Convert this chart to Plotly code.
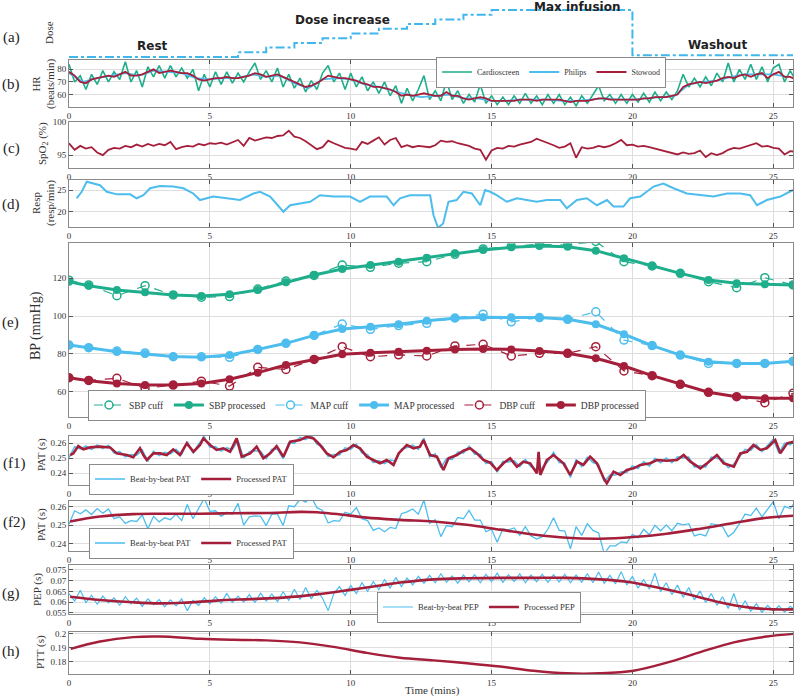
import plotly.graph_objects as go
from plotly.subplots import make_subplots

GREEN = "#1fae8b"
BLUE = "#4dbdee"
RED = "#a51f3b"
SERIF = "Liberation Serif"
SANS = "DejaVu Sans"

# ---- (a) dose protocol (arbitrary units, step per minute)
dose_t = [0, 6, 7, 8, 9, 10, 11, 12, 13, 14, 15, 20, 25.7]
dose_v = [0, 1, 2, 3, 4, 5, 6, 7, 8, 9, 10, 0.4, 0.4]

# ---- (b) heart rate, sampled every 0.2 min (Philips every 0.5 min)
hr_cardioscreen = [
    84, 70, 75, 64, 76, 68, 79, 70, 78, 72,
    86, 70, 79, 66, 82, 74, 83, 73, 83, 74,
    81, 73, 80, 63, 76, 66, 78, 68, 78, 69,
    77, 70, 78, 85, 72, 79, 70, 81, 66, 76,
    65, 73, 62, 71, 64, 77, 83, 70, 77, 64,
    77, 66, 74, 63, 70, 61, 70, 59, 67, 53,
    65, 55, 64, 75, 56, 63, 55, 71, 56, 63,
    53, 60, 54, 68, 53, 59, 52, 58, 52, 59,
    53, 61, 53, 59, 52, 60, 53, 60, 52, 58,
    51, 59, 53, 60, 67, 55, 60, 53, 60, 53,
    60, 54, 61, 54, 62, 55, 62, 56, 63, 76,
    66, 73, 66, 74, 67, 77, 70, 85, 70, 80,
    72, 84, 72, 82, 70, 81, 84, 70, 79, 71]
hr_philips = [
    77, 70, 73, 75, 77, 75, 79, 78, 77, 73,
    72, 73, 73, 76, 74, 75, 69, 65, 72, 73,
    72, 68, 66, 63, 60, 58, 59, 60, 57, 57,
    55, 55, 56, 56, 56, 55, 55, 56, 57, 56,
    56, 57, 58, 59, 68, 70, 71, 74, 76, 76,
    76, 74]
hr_stowood = [
    78, 75, 70, 69, 72, 73, 74, 75, 74, 76,
    78, 75, 75, 76, 78, 80, 77, 78, 79, 78,
    77, 77, 75, 72, 71, 72, 73, 73, 74, 73,
    73, 74, 75, 77, 76, 74, 75, 76, 74, 72,
    70, 68, 66, 67, 69, 72, 75, 74, 73, 73,
    72, 71, 69, 68, 66, 66, 65, 64, 62, 59,
    60, 59, 60, 61, 60, 59, 59, 62, 59, 59,
    57, 56, 57, 58, 57, 55, 55, 55, 55, 55,
    56, 56, 56, 55, 56, 56, 56, 56, 55, 54,
    55, 55, 55, 56, 57, 57, 56, 56, 56, 56,
    56, 56, 57, 57, 58, 58, 58, 59, 60, 66,
    68, 69, 70, 69, 70, 71, 73, 74, 73, 75,
    76, 74, 76, 77, 73, 76, 78, 74, 74, 72]

# ---- (c) SpO2, every 0.2 min
spo2 = [
    96.8, 95.8, 96.4, 96.0, 96.2, 95.4, 95.0, 95.8, 96.1, 96.0,
    96.4, 96.2, 96.6, 96.3, 96.7, 96.4, 96.7, 96.5, 97.0, 95.9,
    96.2, 96.4, 96.3, 96.7, 96.5, 96.8, 96.7, 96.9, 96.6, 96.9,
    97.3, 96.4, 97.6, 97.2, 97.5, 97.7, 97.6, 97.9, 98.0, 98.7,
    97.8, 97.6, 97.1, 96.5, 95.9, 96.2, 97.2, 96.8, 96.5, 96.1,
    96.0, 95.8, 97.0, 96.7, 97.2, 97.7, 96.6, 97.3, 97.6, 96.2,
    96.5, 96.2, 96.4, 96.3, 96.2, 96.5, 97.2, 97.0, 97.1, 96.8,
    96.6, 96.4, 96.0, 95.8, 94.3, 95.7, 96.1, 96.0, 96.4, 96.3,
    96.6, 96.8, 97.0, 97.5, 97.2, 96.9, 96.5, 96.1, 96.3, 96.8,
    94.6, 96.2, 96.0, 96.1, 96.4, 96.2, 96.4, 96.8, 97.3, 96.5,
    96.6, 96.3, 96.4, 96.2, 96.0, 95.8, 95.6, 95.4, 95.1, 95.4,
    95.2, 95.3, 95.7, 94.7, 95.3, 95.0, 95.3, 95.8, 96.1, 96.0,
    96.3, 96.5, 96.8, 96.3, 96.4, 96.1, 96.0, 95.1, 95.6, 95.5]

# ---- (d) respiration rate
resp_t = [0.27, 0.45, 0.63, 0.87, 1.1, 1.34, 1.7, 2.17, 2.4, 2.64, 2.88, 3.23, 3.7, 4.06,
          4.41, 4.65, 5.12, 5.6, 6.07, 6.55, 6.78, 7.14, 7.61, 7.85, 8.2, 8.56, 8.91, 9.39,
          9.98, 10.33, 10.68, 11.28, 11.52, 11.75, 12.1, 12.46, 12.82, 12.94, 13.1, 13.28,
          13.47, 13.76, 14.0, 14.3, 14.6, 14.77, 14.95, 15.18, 15.54, 15.9, 16.25, 16.6,
          16.96, 17.44, 17.67, 18.03, 18.38, 18.74, 19.1, 19.33, 19.68, 19.92, 20.28, 20.75,
          21.1, 21.46, 21.93, 22.4, 22.88, 23.36, 23.83, 24.18, 24.42, 24.77, 25.25, 25.7]
resp_v = [23.1, 24.6, 26.9, 26.5, 26.1, 24.6, 24.0, 24.0, 23.1, 23.8, 25.4, 25.9, 25.8, 25.4,
          24.2, 22.7, 23.5, 23.1, 22.7, 24.2, 24.6, 23.5, 20.0, 21.5, 21.9, 22.3, 23.8, 23.5,
          23.5, 22.3, 23.5, 23.5, 21.5, 23.1, 23.8, 23.8, 23.8, 19.2, 16.3, 17.3,
          22.3, 22.7, 24.6, 24.2, 21.5, 25.0, 24.6, 23.8, 22.3, 23.1, 22.7, 22.3,
          22.7, 22.7, 20.8, 22.7, 23.1, 21.5, 22.7, 21.2, 21.2, 23.1, 23.5, 25.8,
          26.5, 25.4, 24.2, 23.8, 23.5, 24.2, 24.2, 23.8, 21.5, 22.7, 23.5, 25.0]

# ---- (e) blood pressure
bp_t = [0, 0.7, 1.7, 2.7, 3.7, 4.7, 5.7, 6.7, 7.7, 8.7, 9.7, 10.7, 11.7, 12.7,
        13.7, 14.7, 15.7, 16.7, 17.7, 18.7, 19.7, 20.7, 21.7, 22.7, 23.7, 24.7, 25.7]
sbp_cuff = [119.0, 116.5, 110.8, 116.1, 111.2, 110.0, 110.3, 114.3, 118.5, 121.5, 127.0, 125.8,
            128.0, 128.8, 132.7, 135.5, 137.0, 138.0, 137.5, 139.5, 128.8, 126.5, 122.6, 118.2,
            115.0, 120.3, 116.5]
sbp_proc = [118.2, 116.1, 113.8, 112.6, 111.2, 110.6, 111.5, 113.8, 117.9, 121.7, 124.9, 127.0,
            128.8, 130.9, 133.2, 135.0, 136.4, 137.1, 136.7, 134.6, 130.6, 126.5, 122.6, 119.1,
            117.4, 116.8, 116.5]
map_cuff = [84.7, 83.3, 81.5, 80.5, 78.5, 78.5, 78.2, 82.4, 85.6, 89.8, 95.8, 93.0, 95.0, 96.2,
            99.0, 101.0, 97.0, 99.2, 98.3, 102.3, 87.3, 84.4, 79.4, 75.0, 75.0, 75.0, 76.1]
map_proc = [84.7, 83.3, 81.2, 79.9, 78.7, 78.2, 79.4, 82.4, 85.6, 89.8, 93.2, 94.4, 95.7, 97.6,
            98.8, 99.4, 99.4, 99.2, 98.3, 95.7, 90.4, 84.4, 79.4, 75.9, 75.0, 75.0, 76.1]
dbp_cuff = [67.4, 66.0, 67.1, 61.8, 63.5, 65.6, 63.0, 72.9, 71.8, 77.1, 83.8, 78.5, 79.5, 78.9,
            84.2, 85.1, 78.9, 80.3, 80.3, 83.8, 71.0, 68.5, 63.9, 59.7, 57.4, 54.2, 59.2]
dbp_proc = [67.4, 65.8, 64.4, 63.5, 63.5, 64.4, 66.6, 70.1, 74.1, 77.1, 79.8, 80.6, 81.2, 81.7,
            82.4, 82.6, 82.4, 81.5, 80.3, 77.7, 73.6, 68.5, 63.9, 59.7, 57.4, 56.5, 56.5]

# ---- (f) pulse arrival time: beat-by-beat every 0.2 min
pat_beat = [
    0.2505, 0.2578, 0.2562, 0.2583, 0.2558, 0.2590, 0.2565, 0.2588, 0.2535, 0.2545,
    0.2510, 0.2525, 0.2520, 0.2555, 0.2480, 0.2548, 0.2518, 0.2540, 0.2530, 0.2560,
    0.2525, 0.2612, 0.2535, 0.2595, 0.2645, 0.2575, 0.2578, 0.2548, 0.2570, 0.2560,
    0.2618, 0.2500, 0.2545, 0.2550, 0.2548, 0.2498, 0.2560, 0.2560, 0.2498, 0.2605,
    0.2600, 0.2640, 0.2625, 0.2652, 0.2595, 0.2580, 0.2512, 0.2525, 0.2522, 0.2570,
    0.2560, 0.2595, 0.2535, 0.2525, 0.2472, 0.2485, 0.2465, 0.2488, 0.2482, 0.2562,
    0.2572, 0.2588, 0.2560, 0.2635, 0.2510, 0.2530, 0.2438, 0.2498, 0.2492, 0.2542,
    0.2535, 0.2580, 0.2528, 0.2528, 0.2465, 0.2478, 0.2408, 0.2480, 0.2475, 0.2485,
    0.2445, 0.2492, 0.2442, 0.2425, 0.2438, 0.2478, 0.2540, 0.2472, 0.2468, 0.2372,
    0.2492, 0.2445, 0.2508, 0.2472, 0.2458, 0.2345, 0.2388, 0.2388, 0.2410, 0.2405,
    0.2450, 0.2432, 0.2478, 0.2448, 0.2500, 0.2470, 0.2502, 0.2470, 0.2510, 0.2502,
    0.2508, 0.2442, 0.2452, 0.2442, 0.2508, 0.2502, 0.2492, 0.2438, 0.2462, 0.2508,
    0.2560, 0.2552, 0.2592, 0.2545, 0.2588, 0.2628, 0.2535, 0.2602, 0.2590, 0.2630]
pat_proc_t = [
    0.04, 0.15, 0.33, 0.51, 0.75, 1.1, 1.46, 1.69, 2.05, 2.28,
    2.52, 2.64, 2.76, 3.0, 3.23, 3.47, 3.7, 3.94, 4.18, 4.42,
    4.65, 4.77, 5.01, 5.24, 5.48, 5.72, 5.95, 6.13, 6.43, 6.66,
    6.9, 7.14, 7.37, 7.61, 7.85, 8.2, 8.44, 8.68, 8.91, 9.15,
    9.39, 9.63, 9.86, 10.1, 10.33, 10.57, 10.8, 11.04, 11.28, 11.52,
    11.7, 11.99, 12.23, 12.46, 12.58, 12.82, 13.06, 13.29, 13.47, 13.77,
    14.0, 14.24, 14.48, 14.71, 14.95, 15.19, 15.42, 15.66, 15.9, 16.13,
    16.37, 16.61, 16.67, 16.73, 16.96, 17.2, 17.55, 17.79, 18.03, 18.26,
    18.5, 18.74, 18.98, 19.09, 19.33, 19.57, 19.8, 20.04, 20.28, 20.63,
    20.87, 21.22, 21.58, 21.82, 22.06, 22.41, 22.65, 23.0, 23.24, 23.6,
    23.83, 24.07, 24.3, 24.54, 24.77, 25.07, 25.25, 25.49, 25.72]
pat_proc_v = [
    0.2522, 0.2533, 0.2582, 0.2560, 0.2573, 0.2578, 0.2573, 0.2533, 0.2522, 0.2507,
    0.2567, 0.2522, 0.2489, 0.2533, 0.2533, 0.2522, 0.2560, 0.2522, 0.2600, 0.2544,
    0.2589, 0.2633, 0.2589, 0.2556, 0.2567, 0.2544, 0.2633, 0.2511, 0.2533, 0.2578,
    0.2500, 0.2533, 0.2582, 0.2511, 0.2611, 0.2622, 0.2644, 0.2633, 0.2589, 0.2533,
    0.2507, 0.2544, 0.2556, 0.2589, 0.2567, 0.2511, 0.2489, 0.2467, 0.2489, 0.2456,
    0.2533, 0.2589, 0.2567, 0.2578, 0.2622, 0.2522, 0.2511, 0.2422, 0.2500, 0.2522,
    0.2551, 0.2567, 0.2533, 0.2489, 0.2471, 0.2422, 0.2467, 0.2500, 0.2444, 0.2478,
    0.2467, 0.2400, 0.2544, 0.2389, 0.2489, 0.2522, 0.2467, 0.2389, 0.2478, 0.2456,
    0.2511, 0.2467, 0.2367, 0.2333, 0.2411, 0.2389, 0.2422, 0.2433, 0.2456, 0.2467,
    0.2489, 0.2484, 0.2489, 0.2522, 0.2478, 0.2433, 0.2467, 0.2522, 0.2467, 0.2444,
    0.2533, 0.2544, 0.2589, 0.2556, 0.2567, 0.2622, 0.2533, 0.2600, 0.2611]
pat_smooth_t = [0.04, 1.1, 2.28, 3.23, 4.65, 5.83, 7.0, 8.2, 8.8, 9.39, 9.98, 10.57, 11.75,
                12.94, 14.12, 15.3, 16.49, 17.67, 18.86, 20.04, 21.22, 22.41, 23.6, 24.77, 25.72]
pat_smooth_v = [0.2520, 0.2547, 0.2560, 0.2562, 0.2562, 0.2565, 0.2566, 0.2572, 0.2570, 0.2562,
                0.2552, 0.2541, 0.2529, 0.2520, 0.2502, 0.2476, 0.2450, 0.2432, 0.2427, 0.2436,
                0.2454, 0.2481, 0.2512, 0.2540, 0.2551]

# ---- (g) pre-ejection period, beat-by-beat every 0.2 min
pep_beat = [
    0.0640, 0.0605, 0.0655, 0.0598, 0.0632, 0.0590, 0.0628, 0.0596, 0.0620, 0.0585,
    0.0625, 0.0592, 0.0618, 0.0580, 0.0615, 0.0588, 0.0612, 0.0578, 0.0610, 0.0582,
    0.0615, 0.0560, 0.0608, 0.0585, 0.0620, 0.0592, 0.0625, 0.0595, 0.0640, 0.0598,
    0.0628, 0.0600, 0.0635, 0.0598, 0.0642, 0.0605, 0.0638, 0.0602, 0.0648, 0.0608,
    0.0660, 0.0612, 0.0668, 0.0615, 0.0655, 0.0618, 0.0560, 0.0640, 0.0672, 0.0630,
    0.0678, 0.0640, 0.0690, 0.0650, 0.0695, 0.0658, 0.0705, 0.0665, 0.0715, 0.0672,
    0.0712, 0.0680, 0.0720, 0.0688, 0.0725, 0.0690, 0.0732, 0.0692, 0.0722, 0.0688,
    0.0726, 0.0695, 0.0728, 0.0690, 0.0730, 0.0695, 0.0735, 0.0692, 0.0728, 0.0696,
    0.0732, 0.0690, 0.0726, 0.0695, 0.0730, 0.0692, 0.0728, 0.0694, 0.0730, 0.0690,
    0.0726, 0.0693, 0.0732, 0.0690, 0.0740, 0.0688, 0.0725, 0.0685, 0.0742, 0.0680,
    0.0720, 0.0665, 0.0705, 0.0660, 0.0735, 0.0648, 0.0690, 0.0635, 0.0680, 0.0622,
    0.0668, 0.0610, 0.0652, 0.0598, 0.0640, 0.0585, 0.0625, 0.0570, 0.0640, 0.0562,
    0.0605, 0.0558, 0.0592, 0.0552, 0.0585, 0.0558, 0.0582, 0.0553, 0.0580, 0.0560]
pep_t = [0.04, 1.1, 2.28, 3.23, 4.06, 5.24, 6.43, 7.61, 8.8, 9.98, 11.16, 11.75, 12.94,
         14.12, 15.3, 16.49, 17.67, 18.86, 19.8, 20.63, 21.82, 23.0, 24.18, 25.0, 25.72]
pep_v = [0.0625, 0.0610, 0.0599, 0.0594, 0.0597, 0.0607, 0.0614, 0.0621, 0.0636, 0.0657,
         0.0680, 0.0691, 0.0706, 0.0711, 0.0713, 0.0713, 0.0713, 0.0706, 0.0695, 0.0675,
         0.0641, 0.0602, 0.0574, 0.0566, 0.0566]

# ---- (h) pulse transit time
ptt_t = [0.06, 1.1, 2.28, 3.23, 4.65, 5.83, 7.0, 8.2, 9.39, 10.57, 11.75, 12.94, 14.12,
         15.3, 16.49, 17.67, 18.86, 20.04, 21.22, 22.41, 23.6, 24.77, 25.72]
ptt_v = [0.1891, 0.1943, 0.1974, 0.1978, 0.1962, 0.1955, 0.1951, 0.1937, 0.1905, 0.1863,
         0.1829, 0.1810, 0.1790, 0.1767, 0.1737, 0.1719, 0.1719, 0.1737, 0.1794, 0.1868,
         0.1937, 0.1978, 0.1997]


def grid(vals, step):
    return [round(i * step, 2) for i in range(len(vals))]


H = 698
L, R = 69, 793


def px(x):
    return (x - L) / (R - L)


def py(y):
    return 1 - y / H


fig = make_subplots(rows=9, cols=1)

# (a)
fig.add_trace(go.Scatter(x=dose_t, y=dose_v, mode="lines", line_shape="hv",
                         line=dict(color="#3fb6ec", width=2, dash="dashdot"),
                         showlegend=False), row=1, col=1)
# (b)
fig.add_trace(go.Scatter(x=grid(hr_cardioscreen, 0.2), y=hr_cardioscreen, mode="lines", name="Cardioscreen",
                         line=dict(color=GREEN, width=1.6), legend="legend"), row=2, col=1)
fig.add_trace(go.Scatter(x=grid(hr_philips, 0.5), y=hr_philips, mode="lines", name="Philips",
                         line=dict(color=BLUE, width=1.8), legend="legend"), row=2, col=1)
fig.add_trace(go.Scatter(x=grid(hr_stowood, 0.2), y=hr_stowood, mode="lines", name="Stowood",
                         line=dict(color=RED, width=1.8), legend="legend"), row=2, col=1)
# (c)
fig.add_trace(go.Scatter(x=grid(spo2, 0.2), y=spo2, mode="lines", line=dict(color=RED, width=1.8),
                         showlegend=False), row=3, col=1)
# (d)
fig.add_trace(go.Scatter(x=resp_t, y=resp_v, mode="lines", line=dict(color=BLUE, width=2),
                         showlegend=False), row=4, col=1)
# (e)
for name, vals, color, cuff in [("SBP cuff", sbp_cuff, GREEN, True), ("SBP processed", sbp_proc, GREEN, False),
                                ("MAP cuff", map_cuff, BLUE, True), ("MAP processed", map_proc, BLUE, False),
                                ("DBP cuff", dbp_cuff, RED, True), ("DBP processed", dbp_proc, RED, False)]:
    if cuff:
        fig.add_trace(go.Scatter(x=bp_t, y=vals, mode="lines+markers", name=name, legend="legend2",
                                 line=dict(color=color, width=1.2, dash="dash"),
                                 marker=dict(symbol="circle-open", size=8, color=color, line=dict(width=1.5))),
                      row=5, col=1)
    else:
        fig.add_trace(go.Scatter(x=bp_t, y=vals, mode="lines+markers", name=name, legend="legend2",
                                 line=dict(color=color, width=3),
                                 marker=dict(symbol="circle", size=8, color=color)), row=5, col=1)
# (f1)
fig.add_trace(go.Scatter(x=grid(pat_beat, 0.2), y=pat_beat, mode="lines", name="Beat-by-beat PAT",
                         line=dict(color=BLUE, width=1.5), legend="legend3"), row=6, col=1)
fig.add_trace(go.Scatter(x=pat_proc_t, y=pat_proc_v, mode="lines", name="Processed PAT",
                         line=dict(color=RED, width=2.6), legend="legend3"), row=6, col=1)
# (f2)
fig.add_trace(go.Scatter(x=grid(pat_beat, 0.2), y=pat_beat, mode="lines", name="Beat-by-beat PAT",
                         line=dict(color=BLUE, width=1.3), legend="legend4"), row=7, col=1)
fig.add_trace(go.Scatter(x=pat_smooth_t, y=pat_smooth_v, mode="lines", line_shape="spline",
                         name="Processed PAT", line=dict(color=RED, width=2.6), legend="legend4"), row=7, col=1)
# (g)
fig.add_trace(go.Scatter(x=grid(pep_beat, 0.2), y=pep_beat, mode="lines", name="Beat-by-beat PEP",
                         line=dict(color=BLUE, width=1.2), legend="legend5"), row=8, col=1)
fig.add_trace(go.Scatter(x=pep_t, y=pep_v, mode="lines", line_shape="spline", name="Processed PEP",
                         line=dict(color=RED, width=2.6), legend="legend5"), row=8, col=1)
# (h)
fig.add_trace(go.Scatter(x=ptt_t, y=ptt_v, mode="lines", line_shape="spline",
                         line=dict(color=RED, width=2.4), showlegend=False), row=9, col=1)

# panel placement in pixels (top, bottom)
panels = [(5, 58), (60, 107), (121.5, 168.3), (180, 227), (243.3, 416.7),
          (436, 485), (501, 550.7), (565, 614.3), (631.7, 674.3)]
y_ranges = [[-0.21, 11.06], [50.1, 87.4], [93.0, 100.1], [16.5, 27.3], [46.8, 138.5],
            [0.2322, 0.2649], [0.2362, 0.2631], [0.0543, 0.0773], [0.1712, 0.2012]]
y_ticks = [None, ([60, 70, 80], ["60", "70", "80"]), ([95, 100], ["95", "100"]),
           ([20, 25], ["20", "25"]), ([60, 80, 100, 120], ["60", "80", "100", "120"]),
           ([0.24, 0.25, 0.26], ["0.24", "0.25", "0.26"]), ([0.24, 0.25, 0.26], ["0.24", "0.25", "0.26"]),
           ([0.055, 0.06, 0.065, 0.07, 0.075], ["0.055", "0.06", "0.065", "0.07", "0.075"]),
           ([0.18, 0.19, 0.2], ["0.18", "0.19", "0.2"])]

axis_common = dict(showline=True, linecolor="#8a8a8a", linewidth=1, mirror="ticks", ticks="inside",
                   ticklen=4, tickcolor="#555", zeroline=False, showgrid=True, gridcolor="#dedede",
                   automargin=False, tickfont=dict(family=SERIF, size=9, color="#333"))

for i, (top, bot) in enumerate(panels):
    n = "" if i == 0 else str(i + 1)
    if i == 0:
        fig.update_layout({f"xaxis{n}": dict(visible=False, range=[0, 25.7], automargin=False),
                           f"yaxis{n}": dict(visible=False, range=y_ranges[0], automargin=False,
                                             domain=[py(bot), py(top)])})
        continue
    fig.update_layout({
        f"xaxis{n}": dict(range=[0, 25.7], tickvals=[0, 5, 10, 15, 20, 25], **axis_common),
        f"yaxis{n}": dict(range=y_ranges[i], domain=[py(bot), py(top)], tickvals=y_ticks[i][0],
                          ticktext=y_ticks[i][1], **axis_common),
    })

legend_common = dict(orientation="h", bgcolor="white", bordercolor="#8a8a8a", borderwidth=1,
                     xanchor="left", yanchor="middle", itemwidth=30, tracegroupgap=0)
fig.update_layout(
    legend=dict(x=px(436), y=py(72), font=dict(family=SERIF, size=8, color="#333"), **legend_common),
    legend2=dict(x=px(88), y=py(405), font=dict(family=SERIF, size=9.5, color="#333"), **legend_common),
    legend3=dict(x=px(89), y=py(479), font=dict(family=SERIF, size=8.5, color="#333"), **legend_common),
    legend4=dict(x=px(89), y=py(543), font=dict(family=SERIF, size=8.5, color="#333"), **legend_common),
    legend5=dict(x=px(377), y=py(607), font=dict(family=SERIF, size=8.5, color="#333"), **legend_common),
)

note = dict(xref="paper", yref="paper", showarrow=False, xanchor="center", yanchor="middle")
annotations = []
# panel letters
for label, xx, yy in [("(a)", 11, 37), ("(b)", 11, 85), ("(c)", 11, 148), ("(d)", 11, 205),
                      ("(e)", 10, 322), ("(f1)", 14, 463), ("(f2)", 14, 522), ("(g)", 11, 593),
                      ("(h)", 11, 651)]:
    annotations.append(dict(text=label, x=px(xx), y=py(yy),
                            font=dict(family=SERIF, size=15, color="#222"), **note))
# y-axis titles
for label, xx, yy, size in [("Dose", 49, 33, 11), ("HR<br>(beats/min)", 44, 84, 11),
                            ("SpO<sub>2</sub> (%)", 43, 144, 11), ("Resp<br>(resp/min)", 44, 203, 11),
                            ("BP (mmHg)", 36, 326, 14), ("PAT (s)", 41, 455, 11),
                            ("PAT (s)", 41, 525, 11), ("PEP (s)", 37, 590, 11), ("PTT (s)", 40, 652, 11)]:
    annotations.append(dict(text=label, x=px(xx), y=py(yy), textangle=-90,
                            font=dict(family=SERIF, size=size, color="#333"), **note))
# protocol phases
for label, xx, yy in [("Rest", 152, 46), ("Dose increase", 342, 20), ("Max infusion", 577, 7),
                      ("Washout", 717, 45)]:
    annotations.append(dict(text=f"<b>{label}</b>", x=px(xx), y=py(yy),
                            font=dict(family=SANS, size=12, color="#222"), **note))
annotations.append(dict(text="Time (mins)", x=px(432), y=py(690),
                        font=dict(family=SERIF, size=11, color="#333"), **note))

fig.update_layout(width=798, height=698, margin=dict(l=L, r=798 - R, t=0, b=0, autoexpand=False),
                  plot_bgcolor="white", paper_bgcolor="white", annotations=annotations)

fig.write_html("out.html", config={"displayModeBar": False},
               post_script="document.body.style.margin = '0';")
